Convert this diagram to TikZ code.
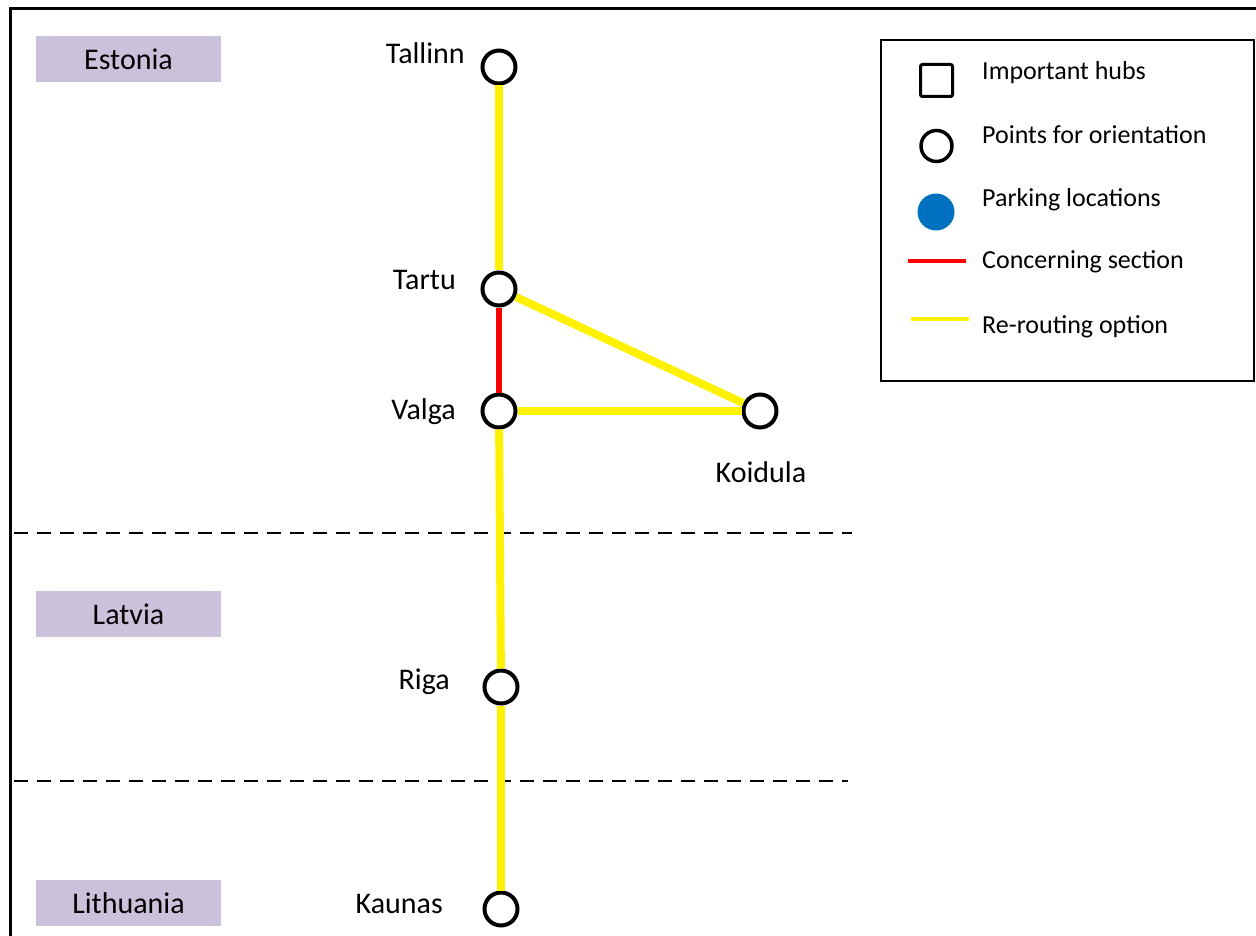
\documentclass[tikz,border=0pt]{standalone}
\usepackage{fontspec}
\setmainfont{Carlito}
\definecolor{countryfill}{HTML}{CCC1DA}
\definecolor{parkblue}{HTML}{0070C0}
\begin{document}
\begin{tikzpicture}[x=1pt,y=-1pt,
  station/.style={circle,draw=black,line width=4pt,fill=white,minimum size=33pt,inner sep=0pt},
  countrybox/.style={fill=countryfill,minimum width=185pt,minimum height=46pt,inner sep=0pt,font=\fontsize{30}{36}\selectfont},
  lbl/.style={font=\fontsize{30}{36}\selectfont,inner sep=0pt},
  leg/.style={font=\fontsize{26}{31}\selectfont,inner sep=0pt,anchor=base west},
  reroute/.style={draw=yellow,line width=8pt},
  concern/.style={draw=red,line width=6pt},
  borderline/.style={draw=black,line width=2pt,dash pattern=on 14pt off 9pt}]
\useasboundingbox (0,0) rectangle (1256,936);
% frame
\draw[line width=3pt] (10,936) -- (10,9) -- (1256,9);
% country boxes
\node[countrybox] (est) at (128.5,59) {Estonia};
\node[countrybox] (lat) at (128.5,614) {Latvia};
\node[countrybox] (lit) at (128.5,903) {Lithuania};
% borders
\draw[borderline] (14,533) -- (852,533);
\draw[borderline] (14,781) -- (848,781);
% stations
\node[station] (tallinn) at (499,67) {};
\node[station] (tartu) at (499,289) {};
\node[station] (valga) at (499,411) {};
\node[station] (koidula) at (760,411) {};
\node[station] (riga) at (501,687) {};
\node[station] (kaunas) at (501,909) {};
% labels
\node[lbl,anchor=base east] (ltallinn) at (465,64) {Tallinn};
\node[lbl,anchor=base east] (ltartu) at (456,289) {Tartu};
\node[lbl,anchor=base east] (lvalga) at (456,419) {Valga};
\node[lbl,anchor=base] (lkoidula) at (761,482) {Koidula};
\node[lbl,anchor=base east] (lriga) at (450,689) {Riga};
\node[lbl,anchor=base east] (lkaunas) at (443,913) {Kaunas};
% connections
\draw[reroute] (tallinn) -- (tartu);
\draw[concern] (tartu) -- (valga);
\draw[reroute] (tartu) -- (koidula);
\draw[reroute] (valga) -- (koidula);
\draw[reroute] (valga) -- (riga);
\draw[reroute] (riga) -- (kaunas);
% legend
\node[draw=black,line width=1.5pt,minimum width=373pt,minimum height=341pt,inner sep=0pt] (legend) at (1067.5,210.5) {};
\node[draw=black,line width=3pt,rounded corners=2pt,minimum size=32pt,inner sep=0pt] (lhub) at (936.5,80.5) {};
\node[circle,draw=black,line width=3.5pt,minimum size=31pt,inner sep=0pt] (lpoint) at (936.5,146) {};
\node[circle,fill=parkblue,minimum size=37pt,inner sep=0pt] (lpark) at (936,212) {};
\draw[red,line width=4pt] (908,261) -- (966,261);
\draw[yellow,line width=4pt] (911,319) -- (969,319);
\node[leg] (thub) at (982,80) {Important hubs};
\node[leg] (tpoint) at (982,144) {Points for orientation};
\node[leg] (tpark) at (982,207) {Parking locations};
\node[leg] (tconc) at (982,269) {Concerning section};
\node[leg] (treroute) at (982,333) {Re-routing option};
\end{tikzpicture}
\end{document}
